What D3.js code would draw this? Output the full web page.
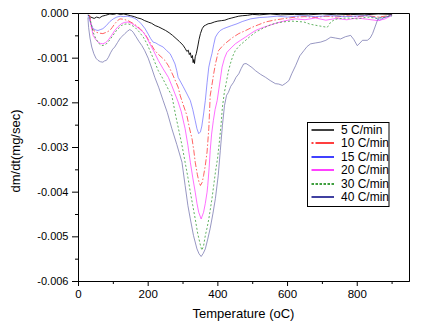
<!DOCTYPE html>
<html><head><meta charset="utf-8">
<script src="https://cdn.jsdelivr.net/npm/d3@7"></script>
<style>
body{margin:0;background:#fff}
svg{display:block}
text{font-family:"Liberation Sans",Arial,sans-serif;fill:#000}
</style>
</head><body>
<svg id="c" width="421" height="323"></svg>
<script>
// ---- data ----
const seriesNames = ["5 C/min","10 C/min","15 C/min","20 C/min","30 C/min","40 C/min"];
const xMajorTicks = [0,200,400,600,800];
const xMinorTicks = [100,300,500,700,900];
const yMajorTicks = [0,-0.001,-0.002,-0.003,-0.004,-0.005,-0.006];
const yMinorTicks = [-0.0005,-0.0015,-0.0025,-0.0035,-0.0045,-0.0055];
const xTitle = "Temperature (oC)";
const yTitle = "dm/dt(mg/sec)";

// [temperature, dm/dt]
const rate5 = [[27,-0.00003],[35,-0.00008],[45,-0.00011],[52,-0.00008],[60,-0.0001],[68,-0.00006],[78,-0.00004],[90,-0.00001],[100,-0.00002],[110,0],[120,-0.00002],[130,-0.00001],[140,-0.00003],[150,-0.00005],[160,-0.00007],[170,-0.0001],[180,-0.00012],[190,-0.00016],[200,-0.00019],[210,-0.00022],[220,-0.00027],[230,-0.0003],[240,-0.00034],[250,-0.00038],[260,-0.00043],[270,-0.00049],[280,-0.00056],[290,-0.00063],[300,-0.00071],[306,-0.00078],[311,-0.00085],[315,-0.00082],[318,-0.00092],[321,-0.00088],[324,-0.00099],[327,-0.00094],[329,-0.0011],[331,-0.00103],[333,-0.00112],[335,-0.00097],[338,-0.0009],[342,-0.00075],[346,-0.00058],[350,-0.00045],[355,-0.00034],[360,-0.00028],[365,-0.00026],[372,-0.00023],[380,-0.00022],[390,-0.00019],[400,-0.00017],[410,-0.00016],[420,-0.00015],[430,-0.00012],[440,-0.0001],[450,-0.00008],[460,-0.00006],[470,-0.00005],[485,-0.00004],[500,-0.00002],[520,-0.00003],[550,-0.00001],[580,-0.00003],[620,-0.00002],[660,-0.00003],[700,-0.00001],[740,-0.00003],[780,-0.00002],[820,-0.00003],[860,-0.00001],[900,-0.00002]];
const rate10 = [[32,-0.00004],[37,-0.00031],[44,-0.00038],[51,-0.00042],[60,-0.00044],[70,-0.00045],[80,-0.00042],[90,-0.00038],[97,-0.00031],[104,-0.00023],[112,-0.00016],[119,-0.00012],[130,-0.00013],[142,-0.00016],[154,-0.00021],[166,-0.00027],[178,-0.00035],[190,-0.00045],[200,-0.00058],[210,-0.00071],[219,-0.00083],[230,-0.00092],[240,-0.00099],[248,-0.00105],[258,-0.00117],[267,-0.00131],[276,-0.00147],[286,-0.00165],[292,-0.00184],[300,-0.00203],[311,-0.00228],[318,-0.00255],[326,-0.00281],[331,-0.00307],[335,-0.00333],[341,-0.0036],[346,-0.00378],[350,-0.00385],[355,-0.00378],[359,-0.00363],[364,-0.0034],[369,-0.0031],[374,-0.00258],[378,-0.00184],[383,-0.0016],[388,-0.00135],[393,-0.00113],[402,-0.00083],[414,-0.00072],[426,-0.00064],[442,-0.00054],[460,-0.00045],[480,-0.00038],[498,-0.00031],[517,-0.00025],[537,-0.00019],[560,-0.00015],[585,-0.00012],[605,-0.0001],[623,-0.00008],[650,-0.00007],[680,-0.00009],[710,-0.00006],[740,-0.00008],[770,-0.00005],[800,-0.00007],[830,-0.00005],[860,-0.00008],[880,-0.00006],[900,-0.00004]];
const rate15 = [[27,-0.00004],[35,-0.00022],[42,-0.00034],[50,-0.00037],[56,-0.00038],[63,-0.00036],[70,-0.00034],[80,-0.00027],[90,-0.00018],[100,-0.00012],[110,-0.00008],[120,-0.00006],[130,-0.00007],[140,-0.00006],[152,-0.00008],[162,-0.00011],[171,-0.00016],[180,-0.00023],[191,-0.00034],[200,-0.00046],[207,-0.00056],[214,-0.00064],[222,-0.00066],[230,-0.0007],[243,-0.00075],[253,-0.00083],[263,-0.0009],[270,-0.00101],[277,-0.00113],[282,-0.00128],[286,-0.00143],[300,-0.00163],[310,-0.00178],[321,-0.00195],[328,-0.00215],[335,-0.0024],[340,-0.00258],[345,-0.00269],[350,-0.00265],[354,-0.00252],[359,-0.00225],[364,-0.00195],[369,-0.00155],[374,-0.0012],[379,-0.00102],[383,-0.0009],[388,-0.0007],[393,-0.00053],[400,-0.00044],[407,-0.00038],[416,-0.00034],[426,-0.00031],[440,-0.00027],[455,-0.00023],[470,-0.00018],[494,-0.00012],[520,-0.00009],[542,-0.00008],[570,-0.00006],[600,-0.00008],[640,-0.00005],[680,-0.00007],[720,-0.00005],[760,-0.00007],[800,-0.00006],[830,-0.00005],[850,-0.00009],[865,-0.00015],[875,-0.0001],[890,-0.00006],[900,-0.00005]];
const rate20 = [[32,-0.00007],[37,-0.0003],[42,-0.00049],[49,-0.00058],[56,-0.00064],[63,-0.00067],[70,-0.00068],[78,-0.00065],[85,-0.0006],[95,-0.00049],[104,-0.00038],[113,-0.0003],[123,-0.00023],[132,-0.0002],[142,-0.00019],[152,-0.00022],[162,-0.00027],[174,-0.00034],[186,-0.00042],[196,-0.00054],[205,-0.00068],[217,-0.00086],[229,-0.00105],[243,-0.00124],[258,-0.00143],[268,-0.00162],[277,-0.0018],[286,-0.00198],[295,-0.0022],[306,-0.00258],[314,-0.00295],[321,-0.00333],[328,-0.00368],[335,-0.004],[340,-0.00425],[345,-0.00445],[352,-0.0046],[359,-0.00445],[364,-0.00425],[369,-0.004],[371,-0.00385],[375,-0.00345],[378,-0.00307],[382,-0.0027],[387,-0.0024],[392,-0.00215],[398,-0.00195],[405,-0.00158],[412,-0.0012],[419,-0.001],[426,-0.00087],[438,-0.00077],[450,-0.00068],[465,-0.0006],[479,-0.00053],[494,-0.00045],[508,-0.00038],[527,-0.00032],[546,-0.00027],[570,-0.00021],[594,-0.00016],[623,-0.00012],[650,-0.00014],[680,-0.0001],[710,-0.00015],[740,-0.00011],[770,-0.00014],[800,-0.0001],[830,-0.00013],[860,-0.00016],[880,-0.00012],[895,-0.00006],[900,-0.00003]];
const rate30 = [[32,-0.00008],[37,-0.00025],[42,-0.00042],[49,-0.00055],[56,-0.00064],[61,-0.00069],[66,-0.00072],[73,-0.00071],[80,-0.00068],[90,-0.00059],[99,-0.00049],[110,-0.00037],[123,-0.00027],[132,-0.00024],[142,-0.00023],[152,-0.00026],[162,-0.00031],[174,-0.00041],[186,-0.00053],[196,-0.00067],[205,-0.00083],[217,-0.00105],[229,-0.00128],[238,-0.0014],[248,-0.00155],[258,-0.0017],[268,-0.00184],[278,-0.00225],[287,-0.00258],[297,-0.00295],[306,-0.00333],[314,-0.00367],[321,-0.004],[328,-0.0043],[335,-0.0046],[342,-0.00492],[350,-0.00519],[354,-0.0053],[359,-0.0052],[364,-0.00497],[369,-0.0048],[374,-0.0046],[379,-0.00435],[383,-0.00415],[388,-0.00385],[393,-0.00355],[399,-0.00325],[404,-0.0029],[409,-0.0025],[413,-0.0021],[418,-0.0018],[424,-0.00155],[430,-0.0013],[436,-0.00112],[443,-0.00095],[450,-0.00083],[462,-0.00072],[474,-0.00064],[490,-0.00053],[508,-0.00042],[527,-0.00034],[546,-0.00027],[565,-0.00022],[585,-0.00019],[610,-0.00017],[630,-0.00018],[647,-0.00019],[665,-0.00024],[685,-0.00027],[700,-0.00029],[714,-0.00031],[720,-0.00024],[724,-0.00019],[735,-0.00014],[743,-0.00012],[770,-0.0001],[800,-0.00012],[830,-0.00008],[860,-0.00011],[880,-0.00008],[900,-0.00005]];
const rate40 = [[27,-0.00009],[29,-0.00031],[33,-0.00055],[38,-0.00075],[44,-0.0009],[50,-0.001],[56,-0.00105],[63,-0.00108],[70,-0.00109],[75,-0.00106],[80,-0.00105],[86,-0.00098],[92,-0.00088],[98,-0.0008],[104,-0.00075],[112,-0.00065],[120,-0.00055],[127,-0.0005],[133,-0.00045],[140,-0.0004],[147,-0.00036],[152,-0.00038],[157,-0.00042],[165,-0.00052],[173,-0.00062],[182,-0.00072],[190,-0.00083],[200,-0.001],[210,-0.00122],[219,-0.00143],[230,-0.00165],[243,-0.00195],[255,-0.00222],[268,-0.00258],[282,-0.00293],[297,-0.00333],[306,-0.00385],[314,-0.0043],[321,-0.0046],[330,-0.00497],[340,-0.00527],[346,-0.00538],[352,-0.00544],[358,-0.00537],[364,-0.00527],[371,-0.00505],[378,-0.00481],[386,-0.00447],[393,-0.00414],[401,-0.00363],[407,-0.00307],[413,-0.00251],[419,-0.00206],[425,-0.00183],[430,-0.00177],[437,-0.00163],[445,-0.00154],[452,-0.00143],[460,-0.00135],[467,-0.00123],[474,-0.00113],[481,-0.00112],[489,-0.00116],[498,-0.00121],[508,-0.00128],[522,-0.00136],[537,-0.00143],[550,-0.0015],[565,-0.00157],[575,-0.00158],[585,-0.00161],[595,-0.00156],[604,-0.0015],[612,-0.00135],[623,-0.00117],[635,-0.00095],[647,-0.00083],[656,-0.00074],[666,-0.00068],[680,-0.00066],[695,-0.00064],[710,-0.0006],[724,-0.00053],[738,-0.00055],[752,-0.00057],[766,-0.00052],[781,-0.00049],[790,-0.00058],[800,-0.00072],[808,-0.00066],[815,-0.0006],[829,-0.0006],[837,-0.00055],[844,-0.00045],[852,-0.00028],[858,-0.00015],[863,-0.00008],[872,-0.0001],[882,-0.00008],[896,-0.00004]];
const allSeries = [rate5, rate10, rate15, rate20, rate30, rate40];

// ---- styles ----
const lineColors = ["#000000","#ff0000","#0000ff","#ff00ff","#008000","#000080"];
const plotColors = ["#000000","#ff2020","#5050ff","#ff30ff","#209020","#6a6aa8"];
const plotWidths = [0.9,0.7,0.6,0.7,0.7,0.7];
const plotDash = [null,"6,2,1.5,2",null,null,"2,2",null];
const legendDash = [null,"2,2,20,2",null,null,"2.5,1.5",null];

// ---- chart ----
const svg = d3.select("#c");
const W = 331, H = 268;
const g = svg.append("g").attr("transform","translate(78,13)");
const x = d3.scaleLinear().domain([0,950]).range([0,W]);
const y = d3.scaleLinear().domain([-0.006,0]).range([H,0]);
const fmtY = v => (Math.abs(v) < 1e-12 ? 0 : v).toFixed(3);

const line = d3.line().x(d => x(d[0]) + 0.5).y(d => y(d[1]) + 0.5);
allSeries.forEach((s,i) => {
  g.append("path").datum(s).attr("d", line)
    .attr("fill","none").attr("stroke", plotColors[i])
    .attr("stroke-width", plotWidths[i])
    .attr("stroke-dasharray", plotDash[i])
    .attr("stroke-linejoin","round");
});

// frame top / right
g.append("path").attr("d", `M0.5,0.5H${W+0.5}V${H+0.5}`).attr("fill","none").attr("stroke","#000").attr("stroke-width",1);

// axes
const xAxis = g.append("g").attr("transform",`translate(0,${H})`)
  .call(d3.axisBottom(x).tickValues(xMajorTicks).tickSize(5).tickSizeOuter(0).tickPadding(3.5).tickFormat(d3.format("d")));
g.append("g").attr("transform",`translate(0,${H})`)
  .call(d3.axisBottom(x).tickValues(xMinorTicks).tickSize(3).tickSizeOuter(0).tickFormat(""));
const yAxis = g.append("g")
  .call(d3.axisLeft(y).tickValues(yMajorTicks).tickSize(6).tickSizeOuter(0).tickPadding(3.5).tickFormat(fmtY));
g.append("g")
  .call(d3.axisLeft(y).tickValues(yMinorTicks).tickSize(3).tickSizeOuter(0).tickFormat(""));
svg.selectAll(".tick text").attr("fill","#000").style("font-family",'"Liberation Sans",Arial,sans-serif');
xAxis.selectAll(".tick text").style("font-size","11.5px");
yAxis.selectAll(".tick text").style("font-size","11px");
svg.selectAll(".domain, .tick line").attr("stroke","#000");

// titles
svg.append("text").attr("x", 78 + W/2).attr("y", 318).attr("text-anchor","middle")
  .style("font-size","13px").text(xTitle);
svg.append("text").attr("transform","translate(20,151) rotate(-90)").attr("text-anchor","middle")
  .style("font-size","13px").text(yTitle);

// legend
const lg = svg.append("g");
lg.append("rect").attr("x",307.5).attr("y",122.5).attr("width",81.5).attr("height",84)
  .attr("fill","#fff").attr("stroke","#000").attr("stroke-width",1);
seriesNames.forEach((n,i) => {
  const cy = 129.5 + i*13.5;
  lg.append("line").attr("x1",311.5).attr("x2",334).attr("y1",Math.round(cy)).attr("y2",Math.round(cy))
    .attr("stroke",lineColors[i]).attr("stroke-width",1.5).attr("stroke-dasharray",legendDash[i]);
  lg.append("text").attr("x",341).attr("y",cy+4.3).style("font-size","12px").text(n);
});
</script>
</body></html>
